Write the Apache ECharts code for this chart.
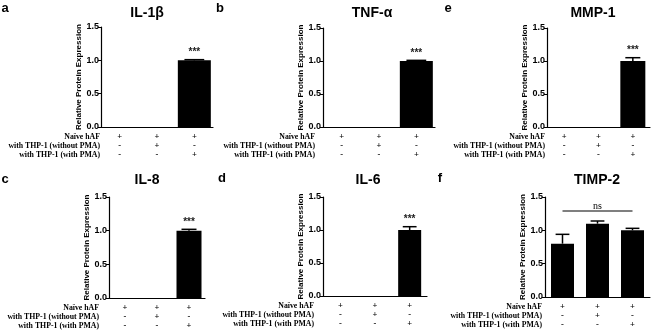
<!DOCTYPE html>
<html><head><meta charset="utf-8">
<script src="https://cdn.jsdelivr.net/npm/echarts@6/dist/echarts.min.js"></script>
<style>html,body{margin:0;padding:0;background:#fff}#c{width:657px;height:330px}</style>
</head><body><div id="c"></div>
<script>
// ---- data ----
const rowNames = ['Naïve hAF', 'with THP-1 (without PMA)', 'with THP-1 (with PMA)'];
const rowNaive = ['+', '+', '+'];
const rowWithout = ['-', '+', '-'];
const rowWith = ['-', '-', '+'];
const yTicks = [0, 0.5, 1.0, 1.5];
const yName = 'Relative Protein Expression';

const il1b = [0, 0, 1.00];      const il1bErr = [0, 0, 0.01];   const il1bSig = ['', '', '***'];
const tnfa = [0, 0, 1.00];      const tnfaErr = [0, 0, 0.01];   const tnfaSig = ['', '', '***'];
const mmp1 = [0, 0, 1.00];      const mmp1Err = [0, 0, 0.05];   const mmp1Sig = ['', '', '***'];
const il8 = [0, 0, 1.00];       const il8Err = [0, 0, 0.02];    const il8Sig = ['', '', '***'];
const il6 = [0, 0, 1.00];       const il6Err = [0, 0, 0.05];    const il6Sig = ['', '', '***'];
const timp2 = [0.80, 1.10, 1.00]; const timp2Err = [0.14, 0.04, 0.03]; const timp2Sig = ['', '', ''];
const timp2Bracket = [0, 2, 1.29, 'ns'];

// ---- layout ----
const panels = [
  {letter: 'a', title: 'IL-1β', vals: il1b, err: il1bErr, sig: il1bSig, grid: {left: 101, top: 27, width: 112, height: 100}, bw: 33, titleX: 147, titleY: 13, letterX: 5, letterY: 8, labelRight: 100},
  {letter: 'b', title: 'TNF-α', vals: tnfa, err: tnfaErr, sig: tnfaSig, grid: {left: 323, top: 28, width: 112, height: 99}, bw: 33, titleX: 372, titleY: 13, letterX: 220, letterY: 8, labelRight: 315},
  {letter: 'e', title: 'MMP-1', vals: mmp1, err: mmp1Err, sig: mmp1Sig, grid: {left: 547, top: 28, width: 103, height: 99}, bw: 25, titleX: 593, titleY: 13, letterX: 448, letterY: 8, labelRight: 545},
  {letter: 'c', title: 'IL-8', vals: il8, err: il8Err, sig: il8Sig, grid: {left: 109, top: 197, width: 96, height: 101}, bw: 25, titleX: 147, titleY: 180, letterX: 5, letterY: 179, labelRight: 99},
  {letter: 'd', title: 'IL-6', vals: il6, err: il6Err, sig: il6Sig, grid: {left: 323, top: 197, width: 104, height: 99}, bw: 23, titleX: 368, titleY: 180, letterX: 222, letterY: 178, labelRight: 314},
  {letter: 'f', title: 'TIMP-2', vals: timp2, err: timp2Err, sig: timp2Sig, grid: {left: 545, top: 197, width: 105, height: 100}, bw: 23, titleX: 597, titleY: 180, letterX: 440, letterY: 178, labelRight: 542, bracket: timp2Bracket}
];

const catLabels = rowNaive.map((v, i) => v + '\n' + rowWithout[i] + '\n' + rowWith[i]);
const SANS = 'Arial, "Liberation Sans", sans-serif';
const SERIF = '"Times New Roman", "Liberation Serif", serif';

const grids = [], xAxes = [], yAxes = [], series = [], graphics = [];
panels.forEach((p, k) => {
  grids.push(Object.assign({containLabel: false}, p.grid));
  xAxes.push({
    type: 'category', gridIndex: k, data: catLabels,
    axisLine: {lineStyle: {color: '#000', width: 1.2}},
    axisTick: {alignWithLabel: true, length: 2, lineStyle: {color: '#000'}},
    axisLabel: {color: '#000', fontFamily: SERIF, fontWeight: 'bold', fontSize: 8.5, lineHeight: 9, margin: 5}
  });
  yAxes.push({
    type: 'value', gridIndex: k, min: 0, max: 1.5, interval: 0.5,
    name: yName, nameLocation: 'middle', nameGap: 18,
    nameTextStyle: {color: '#000', fontFamily: SANS, fontWeight: 'bold', fontSize: 8},
    axisLine: {show: true, lineStyle: {color: '#000', width: 1.2}},
    axisTick: {show: true, length: 3, lineStyle: {color: '#000'}},
    axisLabel: {color: '#000', fontFamily: SANS, fontWeight: 'bold', fontSize: 9, margin: 2, formatter: v => v.toFixed(1)},
    splitLine: {show: false}
  });
  series.push({
    type: 'bar', xAxisIndex: k, yAxisIndex: k, data: p.vals, barWidth: p.bw,
    itemStyle: {color: '#000'}, silent: true, animation: false
  });
  const errData = p.vals.map((v, i) => [i, v, p.err[i], p.sig[i]]);
  const bw = p.bw;
  series.push({
    type: 'custom', xAxisIndex: k, yAxisIndex: k, data: errData, animation: false, silent: true,
    renderItem: (params, api) => {
      const i = api.value(0), v = api.value(1), e = api.value(2);
      const s = p.sig[i];
      const base = api.coord([i, v]);
      const top = api.coord([i, v + e]);
      const children = [];
      if (e > 0) {
        const half = bw * 0.3;
        children.push({type: 'line', shape: {x1: base[0], y1: base[1], x2: top[0], y2: top[1]}, style: {stroke: '#000', lineWidth: 1.5}});
        children.push({type: 'line', shape: {x1: top[0] - half, y1: top[1], x2: top[0] + half, y2: top[1]}, style: {stroke: '#000', lineWidth: 1.5}});
      }
      if (s) {
        children.push({type: 'text', style: {text: s, x: top[0], y: top[1] - 7, align: 'center', verticalAlign: 'middle', font: 'bold 10px ' + SANS, fill: '#222'}});
      }
      return {type: 'group', children: children};
    }
  });
  if (p.bracket) {
    series.push({
      type: 'custom', xAxisIndex: k, yAxisIndex: k, data: [p.bracket], animation: false, silent: true,
      renderItem: (params, api) => {
        const a = api.coord([api.value(0), api.value(2)]);
        const b = api.coord([api.value(1), api.value(2)]);
        return {type: 'group', children: [
          {type: 'line', shape: {x1: a[0], y1: a[1], x2: b[0], y2: b[1]}, style: {stroke: '#000', lineWidth: 1.2}},
          {type: 'text', style: {text: p.bracket[3], x: (a[0] + b[0]) / 2, y: a[1] - 5, align: 'center', verticalAlign: 'middle', font: '10px ' + SERIF, fill: '#000'}}
        ]};
      }
    });
  }
  graphics.push({type: 'text', style: {text: p.letter, x: p.letterX, y: p.letterY, align: 'center', verticalAlign: 'middle', font: 'bold 13px ' + SANS, fill: '#000'}});
  graphics.push({type: 'text', style: {text: p.title, x: p.titleX, y: p.titleY, align: 'center', verticalAlign: 'middle', font: 'bold 14px ' + SANS, fill: '#000'}});
  const bottom = p.grid.top + p.grid.height;
  rowNames.forEach((r, j) => {
    graphics.push({type: 'text', style: {text: r, x: p.labelRight, y: bottom + 10 + 9 * j, align: 'right', verticalAlign: 'middle', font: 'bold 7.8px ' + SERIF, fill: '#000'}});
  });
});

const chart = echarts.init(document.getElementById('c'), null, {renderer: 'canvas'});
chart.setOption({animation: false, grid: grids, xAxis: xAxes, yAxis: yAxes, series: series, graphic: graphics});
</script>
</body></html>
